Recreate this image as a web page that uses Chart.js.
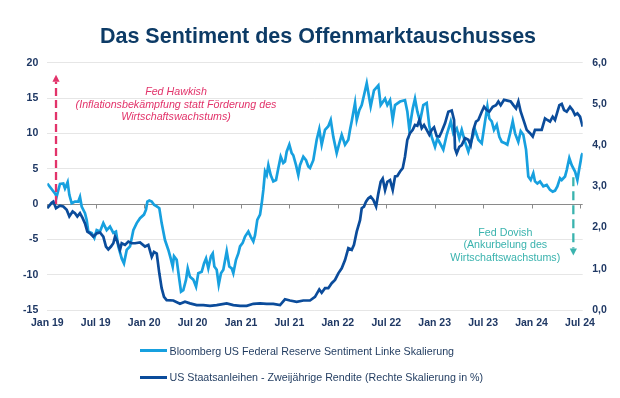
<!DOCTYPE html>
<html>
<head>
<meta charset="utf-8">
<script src="https://cdn.jsdelivr.net/npm/chart.js@4.4.1/dist/chart.umd.min.js"></script>
<style>
html,body{margin:0;padding:0;background:#fff;}
#wrap{position:relative;width:620px;height:398px;overflow:hidden;font-family:"Liberation Sans",Arial,sans-serif;}
#c{position:absolute;left:0;top:0;}
#title{position:absolute;left:8px;top:25px;width:620px;text-align:center;font-weight:bold;font-size:21.5px;line-height:22px;color:#0d3b66;white-space:nowrap;}
.sw{position:absolute;left:140px;width:27px;height:3px;}
.lt{position:absolute;left:169.5px;font-size:10.7px;line-height:14px;color:#1f3a5f;white-space:nowrap;}
</style>
</head>
<body>
<div id="wrap">
<canvas id="c" width="620" height="398"></canvas>
<div id="title">Das Sentiment des Offenmarktauschusses</div>
<div class="sw" style="top:349.2px;background:#17a0df"></div>
<div class="lt" style="top:343.8px">Bloomberg US Federal Reserve Sentiment Linke Skalierung</div>
<div class="sw" style="top:375.8px;background:#0b4c9b"></div>
<div class="lt" style="top:370.4px">US Staatsanleihen - Zweijährige Rendite (Rechte Skalierung in %)</div>
</div>
<script>
// months since Jan 2019
const sentimentMonths = [0,0.95,1.16,1.57,1.98,2.19,2.52,2.73,3.02,3.43,
3.84,4.05,4.26,4.67,4.88,5.08,5.5,5.83,6.12,6.53,
6.94,7.36,7.77,8.18,8.51,8.8,9.22,9.5,9.84,10.25,
10.66,11.08,11.49,11.98,12.23,12.4,12.64,12.94,13.22,13.56,
13.88,14.17,14.58,15.0,15.29,15.54,15.7,16.03,16.36,16.57,
16.85,17.19,17.4,17.68,18.09,18.43,18.71,19.13,19.42,19.67,
19.95,20.28,20.5,20.7,20.99,21.24,21.52,21.81,22.23,22.55,
22.85,23.05,23.38,23.67,23.88,24.21,24.5,24.91,25.2,25.53,
25.74,26.02,26.36,26.57,26.77,26.98,27.19,27.39,27.68,28.0,
28.34,28.63,28.92,29.24,29.45,29.66,29.99,30.28,30.48,30.82,
31.1,31.31,31.72,32.06,32.34,32.55,32.96,33.38,33.7,34.0,
34.41,34.82,35.12,35.44,35.86,36.18,36.48,36.89,37.3,37.51,
37.72,38.13,38.34,38.66,38.96,39.24,39.58,40.07,40.48,41.02,
41.31,41.85,42.13,42.47,42.8,43.09,43.71,44.32,44.61,44.86,
45.28,45.56,45.85,46.18,46.59,47.01,47.34,47.63,48.04,48.33,
48.66,49.07,49.49,49.99,50.31,50.73,51.05,51.35,51.76,52.17,
52.59,53.0,53.41,53.83,54.24,54.53,54.77,55.07,55.35,55.69,
56.01,56.31,56.72,57.0,57.34,57.67,57.96,58.36,58.66,58.98,
59.32,59.6,59.9,60.22,60.43,60.72,61.05,61.46,61.88,62.29,
62.62,62.91,63.2,63.53,63.74,64.15,64.36,64.68,64.98,65.39,
65.68,65.93,66.22,66.34];
const sentimentValues = [2.9,1.5,1.05,2.85,2.9,2.2,3.1,1.3,0.1,0.35,
0.35,1.0,-0.35,-1.3,-2.25,-3.9,-4.1,-4.8,-3.7,-3.9,
-2.7,-3.7,-3.2,-4.1,-3.9,-6.0,-7.7,-8.4,-6.5,-6.0,
-3.7,-2.7,-2.0,-1.5,-0.8,0.35,0.5,0.35,-0.1,-0.35,
-0.6,-2.7,-5.1,-6.5,-7.7,-8.85,-7.4,-7.9,-10.7,-12.4,
-12.2,-10.7,-9.1,-10.3,-10.7,-11.7,-9.8,-9.6,-8.4,-7.7,
-9.1,-7.4,-7.0,-8.85,-9.3,-11.4,-9.8,-9.3,-6.7,-8.85,
-9.1,-9.8,-7.9,-7.0,-6.0,-5.5,-4.6,-3.9,-4.6,-5.3,
-4.4,-2.25,-1.5,0.1,2.0,4.6,4.1,5.5,4.1,3.2,
3.4,5.1,6.7,5.8,6.0,7.4,8.4,7.2,6.9,5.5,
4.1,5.5,6.7,6.2,5.3,5.1,6.2,9.1,10.6,8.4,
10.5,11.0,11.9,9.5,7.2,8.6,9.8,8.4,9.1,10.5,
11.7,14.3,11.9,13.3,14.0,15.4,17.1,13.8,16.1,16.8,
14.0,14.9,14.0,14.7,11.9,14.0,14.5,14.7,13.1,10.5,
13.5,14.9,13.1,11.7,14.0,14.3,11.0,9.5,8.1,9.3,
8.6,7.7,9.8,11.7,10.0,10.7,9.3,10.5,8.8,7.4,
9.1,10.5,9.1,8.6,11.7,13.8,12.1,11.7,10.5,11.2,
9.5,8.8,8.6,8.4,10.0,11.7,10.0,8.8,10.3,9.8,
7.7,3.9,3.4,4.35,3.2,2.9,3.2,2.5,2.7,2.0,
1.75,1.9,2.5,3.65,3.4,3.9,4.8,6.5,5.5,4.6,
3.4,5.1,6.9,7.2];
const yieldMonths = [0,0.54,0.75,1.08,1.57,1.98,2.4,2.73,3.14,3.43,
3.72,4.05,4.38,4.67,4.96,5.29,5.7,6.12,6.53,6.94,
7.27,7.56,7.89,8.18,8.39,8.68,9.01,9.22,9.63,10.04,
10.46,10.87,11.49,12.11,12.52,12.94,13.22,13.56,13.88,14.17,
14.46,14.79,15.61,16.44,17.06,17.68,18.51,19.33,20.16,20.99,
22.23,23.05,23.88,24.71,25.53,26.36,27.19,28.0,28.84,29.45,
30.07,30.9,31.72,32.55,33.17,33.7,34.0,34.41,34.82,35.24,
35.65,36.06,36.48,36.89,37.3,37.72,38.0,38.34,38.75,38.96,
39.24,39.49,39.78,40.07,40.4,40.74,41.02,41.31,41.56,41.85,
42.13,42.47,42.8,43.09,43.37,43.71,44.04,44.32,44.61,44.94,
45.28,45.56,45.85,46.1,46.39,46.68,47.01,47.34,47.63,47.92,
48.25,48.58,48.87,49.28,49.69,50.11,50.4,50.52,50.73,51.05,
51.35,51.76,52.17,52.46,52.79,53.12,53.41,53.83,54.12,54.45,
54.77,55.19,55.6,55.89,56.18,56.59,57.0,57.42,57.75,58.08,
58.37,58.66,59.07,59.4,59.81,60.15,60.43,60.84,61.26,61.67,
61.96,62.29,62.62,62.91,63.45,63.74,64.03,64.36,64.77,65.1,
65.39,65.68,66.01,66.34];
const yieldValues = [2.47,2.6,2.63,2.47,2.53,2.51,2.43,2.27,2.39,2.35,
2.27,2.35,2.23,2.1,1.9,1.86,1.78,1.86,1.88,1.78,
1.54,1.47,1.54,1.62,1.78,1.66,1.46,1.62,1.58,1.66,
1.62,1.62,1.64,1.54,1.58,1.29,1.41,1.37,0.89,0.53,
0.32,0.24,0.23,0.15,0.2,0.16,0.12,0.12,0.1,0.12,
0.16,0.12,0.1,0.1,0.15,0.16,0.15,0.15,0.12,0.26,
0.23,0.2,0.23,0.23,0.32,0.5,0.42,0.53,0.53,0.65,
0.73,0.89,1.01,1.21,1.5,1.46,1.58,1.9,2.18,2.47,
2.51,2.63,2.71,2.75,2.67,2.51,2.83,3.11,3.19,2.91,
3.11,3.15,2.91,3.24,3.25,3.36,3.44,3.72,4.13,4.29,
4.37,4.49,4.47,4.61,4.41,4.49,4.37,4.25,4.37,4.43,
4.22,4.21,4.33,4.53,4.81,4.84,4.61,3.92,3.8,3.96,
4.0,4.17,4.13,4.0,4.37,4.57,4.61,4.81,4.93,4.85,
4.81,4.93,4.97,5.06,4.97,5.1,5.08,5.06,4.97,4.89,
5.06,4.81,4.57,4.37,4.29,4.21,4.37,4.37,4.37,4.65,
4.61,4.57,4.69,4.61,4.97,5.0,4.85,4.81,4.93,4.85,
4.73,4.77,4.69,4.45];
const tickMonths = [0,6,12,18,24,30,36,42,48,54,60,66];
const tickLabels = ['Jan 19','Jul 19','Jan 20','Jul 20','Jan 21','Jul 21','Jan 22','Jul 22','Jan 23','Jul 23','Jan 24','Jul 24'];
const leftTicks = [-15,-10,-5,0,5,10,15,20];
const rightTicks = [0,1,2,3,4,5,6];
const seriesNames = ['Bloomberg US Federal Reserve Sentiment Linke Skalierung','US Staatsanleihen - Zweijährige Rendite (Rechte Skalierung in %)'];
// annotations: [month, value] anchors
const hawkArrow = {m:1.08, from:0, to:18.3};
const doveArrow = {m:65.18, from:3.8, to:-7.3};
const hawkText = {m:15.95, v:15.8, lines:['Fed Hawkish','(Inflationsbekämpfung statt Förderung des','Wirtschaftswachstums)']};
const doveText = {m:56.75, v:-4.05, lines:['Fed Dovish','(Ankurbelung des','Wirtschaftswachstums)']};

const FONT = "'Liberation Sans', Arial, sans-serif";
const TICKCOL = '#1f3864';
const tickFont = {family:FONT, size:10.5, weight:'bold'};

const axisPlugin = {
  id:'zeroAxis',
  beforeDatasetsDraw(chart){
    const {ctx, chartArea, scales:{x, y}} = chart;
    const y0 = Math.round(y.getPixelForValue(0)) + 0.5;
    ctx.save();
    ctx.strokeStyle = '#8a8a8a';
    ctx.lineWidth = 1;
    ctx.beginPath();
    ctx.moveTo(chartArea.left, y0);
    ctx.lineTo(chartArea.right, y0);
    tickMonths.forEach(m => {
      const px = Math.round(x.getPixelForValue(m)) + 0.5;
      ctx.moveTo(px, y0);
      ctx.lineTo(px, y0 + 4);
    });
    ctx.stroke();
    ctx.restore();
  }
};

function drawArrow(ctx, x, yFrom, yTo, color, dash){
  const dir = yTo < yFrom ? -1 : 1;
  const head = 7;
  ctx.save();
  ctx.strokeStyle = color;
  ctx.fillStyle = color;
  ctx.lineWidth = 2.3;
  ctx.setLineDash(dash);
  ctx.beginPath();
  ctx.moveTo(x, yFrom);
  ctx.lineTo(x, yTo - dir*head);
  ctx.stroke();
  ctx.setLineDash([]);
  ctx.beginPath();
  ctx.moveTo(x, yTo);
  ctx.lineTo(x - 3.6, yTo - dir*head);
  ctx.lineTo(x + 3.6, yTo - dir*head);
  ctx.closePath();
  ctx.fill();
  ctx.restore();
}
function drawText(ctx, x, y, lines, color, italic){
  ctx.save();
  ctx.fillStyle = color;
  ctx.font = (italic ? 'italic ' : '') + '10.7px ' + FONT;
  ctx.textAlign = 'center';
  ctx.textBaseline = 'middle';
  lines.forEach((t, i) => ctx.fillText(t, x, y + i*12.5));
  ctx.restore();
}
const annotPlugin = {
  id:'annot',
  afterDatasetsDraw(chart){
    const {ctx, scales:{x, y}} = chart;
    drawArrow(ctx, x.getPixelForValue(hawkArrow.m), y.getPixelForValue(hawkArrow.from), y.getPixelForValue(hawkArrow.to), '#e2336a', [8,4]);
    drawArrow(ctx, x.getPixelForValue(doveArrow.m), y.getPixelForValue(doveArrow.from), y.getPixelForValue(doveArrow.to), '#3ab3ae', [9,5]);
    drawText(ctx, x.getPixelForValue(hawkText.m), y.getPixelForValue(hawkText.v), hawkText.lines, '#e2336a', true);
    drawText(ctx, x.getPixelForValue(doveText.m), y.getPixelForValue(doveText.v), doveText.lines, '#3ab3ae', false);
  }
};

new Chart(document.getElementById('c'), {
  type:'line',
  data:{
    datasets:[
      {label:seriesNames[1], data:yieldMonths.map((m,i)=>({x:m, y:yieldValues[i]})), yAxisID:'y1',
       borderColor:'#0b4c9b', borderWidth:2.7, pointRadius:0, tension:0, order:0},
      {label:seriesNames[0], data:sentimentMonths.map((m,i)=>({x:m, y:sentimentValues[i]})), yAxisID:'y',
       borderColor:'#17a0df', borderWidth:2.7, pointRadius:0, tension:0, order:1}
    ]
  },
  options:{
    responsive:false, animation:false, devicePixelRatio:1,
    layout:{padding:{top:62.7, bottom:58, left:0, right:0}},
    plugins:{legend:{display:false}, title:{display:false}, tooltip:{enabled:false}},
    scales:{
      x:{type:'linear', min:0, max:66.34,
         afterBuildTicks:s=>{s.ticks = tickMonths.map(v=>({value:v}));},
         afterFit:s=>{s.height = 30;},
         grid:{display:false, drawTicks:false}, border:{display:false},
         ticks:{autoSkip:false, maxRotation:0, padding:7, color:TICKCOL, font:tickFont,
                callback:(v,i)=>tickLabels[i]}},
      y:{position:'left', min:-15, max:20,
         afterBuildTicks:s=>{s.ticks = leftTicks.map(v=>({value:v}));},
         afterFit:s=>{s.width = 47.3;},
         grid:{color:c=>(c.tick && c.tick.value===0) ? 'rgba(0,0,0,0)' : '#e6e6e6', lineWidth:1, drawTicks:false},
         border:{display:false},
         ticks:{padding:9, color:TICKCOL, font:tickFont}},
      y1:{position:'right', min:0, max:6,
         afterBuildTicks:s=>{s.ticks = rightTicks.map(v=>({value:v}));},
         afterFit:s=>{s.width = 37.3;},
         grid:{display:false, drawTicks:false}, border:{display:false},
         ticks:{padding:9.5, color:TICKCOL, font:tickFont, callback:v=>v.toFixed(1).replace('.', ',')}}
    }
  },
  plugins:[axisPlugin, annotPlugin]
});
</script>
</body>
</html>
